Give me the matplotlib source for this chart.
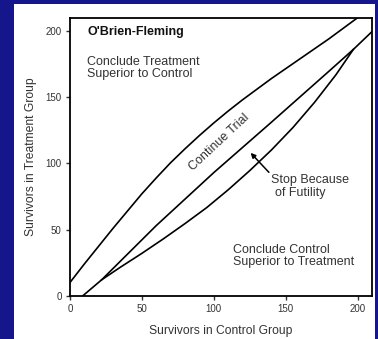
import numpy as np
import matplotlib
matplotlib.use("Agg")
import matplotlib.pyplot as plt
from matplotlib.patches import Rectangle

plt.rcParams['font.family'] = ['Liberation Sans', 'DejaVu Sans']

# upper boundary: conclude treatment superior
upper_ctrl = [0, 10, 20, 30, 40, 50, 60, 70, 80, 90, 100, 110, 120, 130, 140,
              150, 160, 170, 180, 190, 200]
upper_trt = [10, 24, 37.5, 51, 64, 77, 89, 100.5, 111, 121, 130.5, 139.5, 148, 156, 164,
             171.5, 179, 186.5, 194, 202, 210]

# futility boundary (middle line)
mid_ctrl = [9, 22, 60, 100, 140, 180, 197, 210]
mid_trt = [0, 12, 53, 93, 131, 169.5, 186, 199.5]

# lower boundary: conclude control superior
low_ctrl = [22, 35, 50, 65, 80, 95, 110, 125, 140, 155, 170, 185, 197]
low_trt = [12, 21.5, 32, 43, 54.5, 66.5, 80, 94.5, 110, 127, 146, 167, 186]

ticks = [0, 50, 100, 150, 200]

fig = plt.figure(figsize=(3.78, 3.39), dpi=100)
fig.patch.set_facecolor('#16168c')
# white slide panel behind the chart
fig.patches.append(Rectangle((14/378, 0), 361/378, 335/339, transform=fig.transFigure,
                             facecolor='white', edgecolor='none', zorder=-10))

ax = fig.add_axes([70/378, 43.3/339, 302/378, 278/339])
ax.set_facecolor('white')

ax.plot(upper_ctrl, upper_trt, color='black', lw=1.2)
ax.plot(mid_ctrl, mid_trt, color='black', lw=1.2)
ax.plot(low_ctrl, low_trt, color='black', lw=1.2)

ax.set_xlim(0, 210)
ax.set_ylim(0, 210)
ax.set_xticks(ticks)
ax.set_yticks(ticks)
ax.tick_params(direction='out', length=3, width=1, labelsize=7, colors='#333333', pad=3)
for s in ax.spines.values():
    s.set_linewidth(1.3)
    s.set_color('black')

ax.set_xlabel('Survivors in Control Group', fontsize=8.7, color='#333333', labelpad=8)
ax.set_ylabel('Survivors in Treatment Group', fontsize=8.7, color='#333333', labelpad=6)

txt = dict(fontsize=9, va='baseline', ha='left', color='#333333')
ax.text(12, 197.3, "O'Brien-Fleming", fontsize=9, fontweight='bold', va='baseline',
        ha='left', color='#111111')
ax.text(12, 174.4, "Conclude Treatment", **txt)
ax.text(12, 165.5, "Superior to Control", **txt)
ax.text(113, 32.5, "Conclude Control", **txt)
ax.text(113, 23.1, "Superior to Treatment", **txt)
ax.text(139.5, 85.5, "Stop Because", **txt)
ax.text(142.5, 75.4, "of Futility", **txt)
ax.text(103.7, 115.5, "Continue Trial", fontsize=9, va='center', ha='center',
        rotation=43, color='#333333')

ax.annotate('', xy=(125.6, 107.9), xytext=(138.3, 93.2),
            arrowprops=dict(arrowstyle='-|>', color='black', lw=1.1,
                            mutation_scale=7, shrinkA=0, shrinkB=0))

fig.savefig('out.png', dpi=100, facecolor=fig.get_facecolor())
